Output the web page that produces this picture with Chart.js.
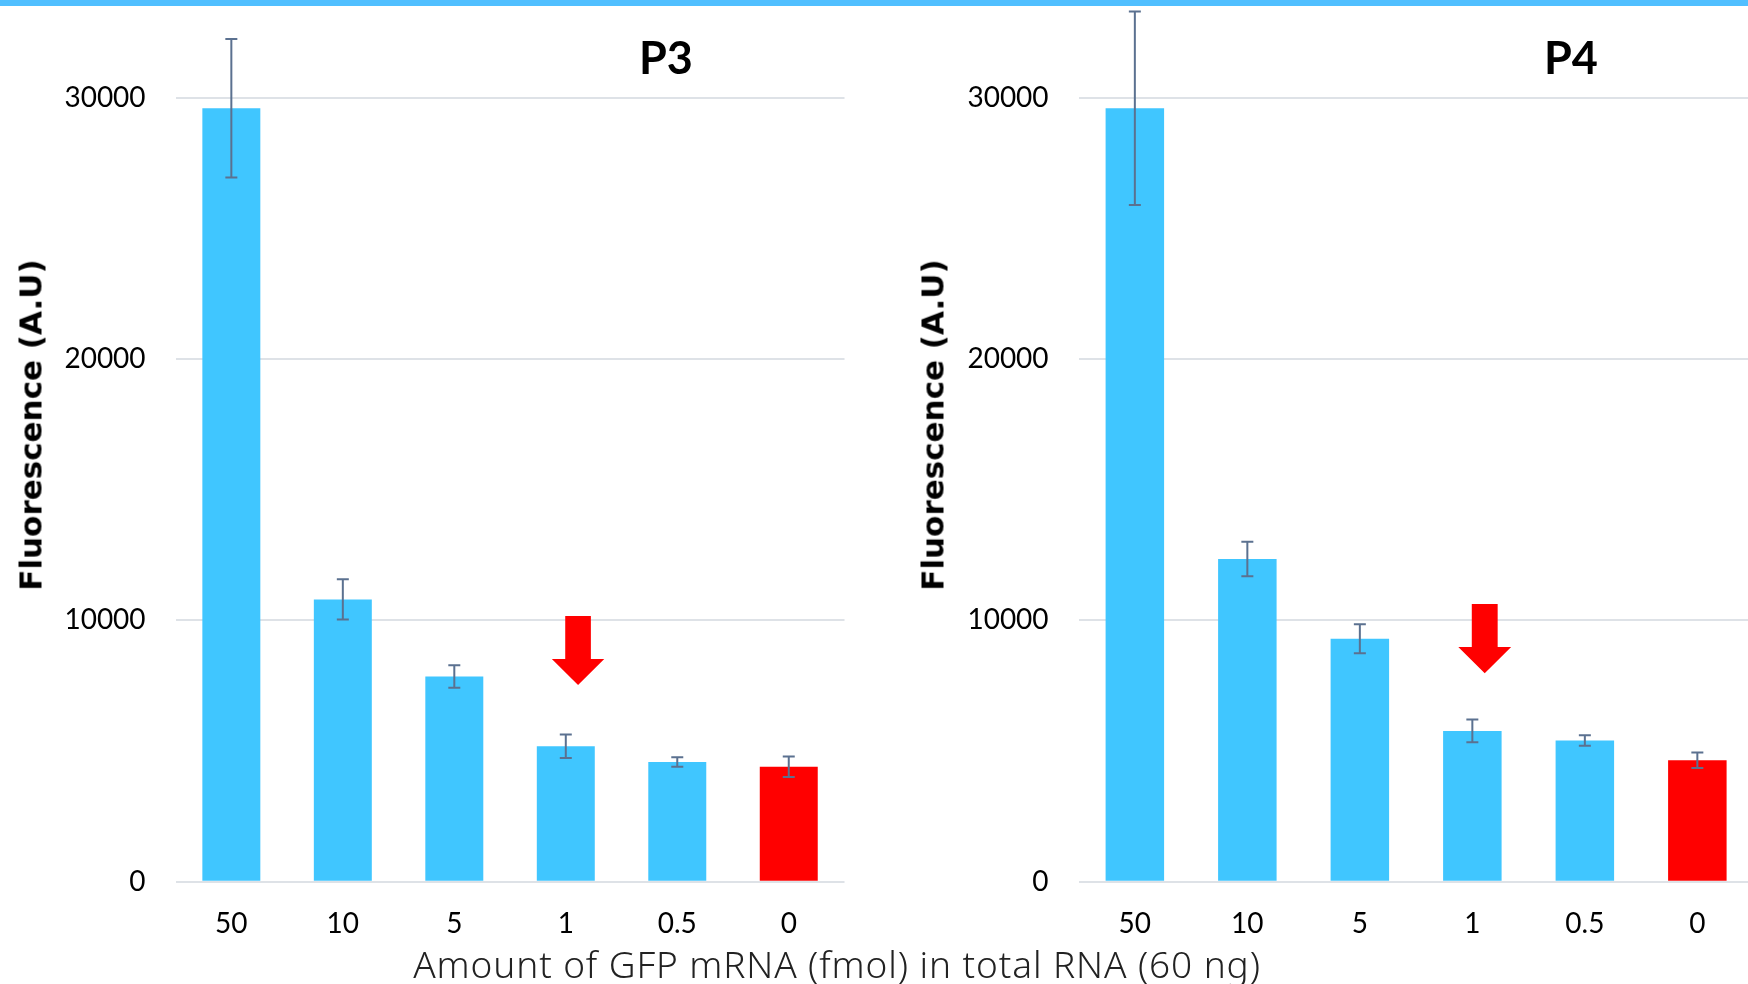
<!DOCTYPE html>
<html><head><meta charset="utf-8">
<script src="https://cdn.jsdelivr.net/npm/chart.js@4.4.0/dist/chart.umd.min.js"></script>
<style>
html,body{margin:0;padding:0;background:#fff;width:1748px;height:984px;overflow:hidden;position:relative}
#stripe{position:absolute;left:0;top:0;width:1748px;height:6px;background:#50BFFF;z-index:2}
.wrap{position:absolute;top:0;height:984px}
#w1{left:0;width:874px}
#w2{left:874px;width:900px}
.t{position:absolute;white-space:nowrap;line-height:1;transform:translate(-50%,-50%);color:#000}
.ptitle{font-family:Lato,'Liberation Sans',sans-serif;font-weight:700;font-size:45px}
.ytitle{font-family:'DejaVu Sans',sans-serif;font-weight:700;font-size:31px;transform:translate(-50%,-50%) rotate(-90deg)}
.xtitle{font-family:'Noto Sans',sans-serif;font-weight:300;font-size:37px;letter-spacing:0.9px;color:#222}
</style>
</head><body>
<div id="stripe"></div>
<div class="wrap" id="w1"><canvas id="c1" width="874" height="984"></canvas></div>
<div class="wrap" id="w2"><canvas id="c2" width="900" height="984"></canvas></div>
<div class="t ptitle" style="left:666px;top:57px">P3</div>
<div class="t ptitle" style="left:1571px;top:57px">P4</div>
<div class="t ytitle" style="left:31px;top:425px">Fluorescence (A.U)</div>
<div class="t ytitle" style="left:933px;top:425px">Fluorescence (A.U)</div>
<div class="t xtitle" style="left:837px;top:963px">Amount of GFP mRNA (fmol) in total RNA (60 ng)</div>
<script>
const categories = ['50', '10', '5', '1', '0.5', '0'];
const p3Values = [29600, 10800, 7850, 5180, 4580, 4400];
const p3Errors = [2650, 770, 430, 450, 185, 395];
const p4Values = [29600, 12350, 9300, 5770, 5400, 4650];
const p4Errors = [3700, 660, 555, 435, 200, 295];
const yTicks = [0, 10000, 20000, 30000];
// arrow marker: [category index, top value, head base value, tip value]
const p3Arrow = [3, 10170, 8525, 7530];
const p4Arrow = [3, 10630, 8980, 7975];

const BLUE = '#40C6FF', RED = '#FF0000';

const errorBarPlugin = {
  id: 'errorBars',
  afterDatasetsDraw(chart, args, opts) {
    const meta = chart.getDatasetMeta(0);
    const ys = chart.scales.y;
    const ctx = chart.ctx;
    const vals = chart.data.datasets[0].data;
    ctx.save();
    ctx.strokeStyle = opts.color;
    ctx.lineWidth = opts.width;
    meta.data.forEach((bar, i) => {
      const v = vals[i], e = opts.errors[i];
      const x = bar.x, yt = ys.getPixelForValue(v + e), yb = ys.getPixelForValue(v - e);
      ctx.beginPath();
      ctx.moveTo(x, yt); ctx.lineTo(x, yb);
      ctx.moveTo(x - opts.cap, yt); ctx.lineTo(x + opts.cap, yt);
      ctx.moveTo(x - opts.cap, yb); ctx.lineTo(x + opts.cap, yb);
      ctx.stroke();
    });
    ctx.restore();
  }
};

const arrowPlugin = {
  id: 'arrowMark',
  afterDatasetsDraw(chart, args, opts) {
    const [idx, top, base, tip] = opts.arrow;
    const xs = chart.scales.x, ys = chart.scales.y;
    const step = xs.getPixelForValue(1) - xs.getPixelForValue(0);
    const cx = xs.getPixelForValue(idx) + opts.offset * step;
    const sw = opts.shaft * step / 2, hw = opts.head * step / 2;
    const yT = ys.getPixelForValue(top), yB = ys.getPixelForValue(base), yP = ys.getPixelForValue(tip);
    const ctx = chart.ctx;
    ctx.save();
    ctx.fillStyle = opts.color;
    ctx.beginPath();
    ctx.moveTo(cx - sw, yT); ctx.lineTo(cx + sw, yT); ctx.lineTo(cx + sw, yB);
    ctx.lineTo(cx + hw, yB); ctx.lineTo(cx, yP); ctx.lineTo(cx - hw, yB);
    ctx.lineTo(cx - sw, yB); ctx.closePath();
    ctx.fill();
    ctx.restore();
  }
};

function makeChart(id, values, errors, arrow, yWidth, padRight) {
  return new Chart(document.getElementById(id), {
    type: 'bar',
    data: {
      labels: categories,
      datasets: [{
        data: values,
        backgroundColor: c => categories[c.dataIndex] === '0' ? RED : BLUE,
        barPercentage: 0.52,
        categoryPercentage: 1
      }]
    },
    options: {
      responsive: false, animation: false, devicePixelRatio: 1,
      layout: { padding: { top: 19.4, right: padRight, left: 0, bottom: 0 } },
      plugins: {
        legend: { display: false }, tooltip: { enabled: false },
        errorBars: { errors: errors, color: '#5B7190', width: 2, cap: 6 },
        arrowMark: { arrow: arrow, offset: 0.11, shaft: 0.23, head: 0.47, color: RED }
      },
      scales: {
        x: {
          grid: { display: false }, border: { display: false },
          ticks: { font: { family: 'Lato', size: 28 }, color: '#000', padding: 17.5, maxRotation: 0 },
          afterFit: s => { s.height = 102.3; s.paddingLeft = 0; s.paddingRight = 0; }
        },
        y: {
          min: 0, max: 33000,
          afterBuildTicks: s => { s.ticks = yTicks.map(v => ({ value: v })); },
          grid: { color: '#DEE2E7', lineWidth: 2, drawTicks: false },
          border: { display: false },
          ticks: { font: { family: 'Lato', size: 28 }, color: '#000', padding: 30, callback: v => String(v) },
          afterFit: s => { s.width = yWidth; s.paddingTop = 0; s.paddingBottom = 0; }
        }
      }
    },
    plugins: [errorBarPlugin, arrowPlugin]
  });
}

makeChart('c1', p3Values, p3Errors, p3Arrow, 175.6, 29.5);
makeChart('c2', p4Values, p4Errors, p4Arrow, 204.6, 20.4);
</script>
</body></html>
